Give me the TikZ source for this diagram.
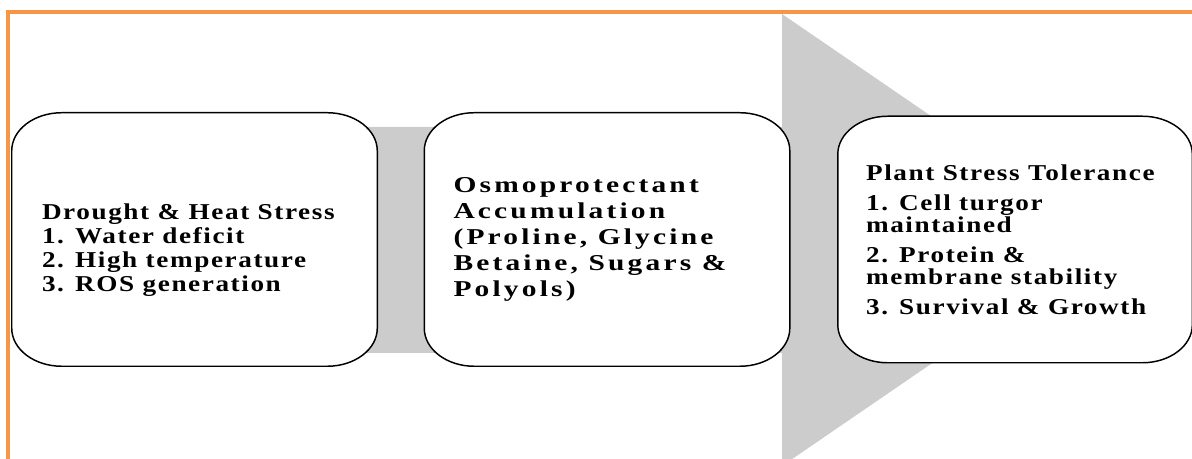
\documentclass[tikz,border=0pt]{standalone}
\usepackage{fontspec}
\setmainfont{Liberation Serif}
\newfontfamily\stagefont[FakeStretch=1.2,LetterSpace=7]{Liberation Serif}
\newfontfamily\osmofont[FakeStretch=1.3,LetterSpace=14]{Liberation Serif}
\usetikzlibrary{positioning,backgrounds}

\definecolor{pageorange}{RGB}{247,150,70}
\definecolor{flowgray}{RGB}{204,204,204}

\tikzset{
  stagebox/.style={minimum width=273.75pt, minimum height=189.75pt, inner sep=0pt},
  stagetext/.style={anchor=west, align=left, inner sep=0pt},
  frameline/.style={draw=black, fill=white, line width=1.1pt},
}

% frame with oval corners round a named node
\newcommand\ovalframe[1]{%
  \draw[frameline] ([xshift=37.5pt]#1.north west) -- ([xshift=-37.5pt]#1.north east)
    arc[start angle=90, end angle=0, x radius=37.5pt, y radius=28.5pt]
    -- ([yshift=28.5pt]#1.south east)
    arc[start angle=0, end angle=-90, x radius=37.5pt, y radius=28.5pt]
    -- ([xshift=37.5pt]#1.south west)
    arc[start angle=270, end angle=180, x radius=37.5pt, y radius=28.5pt]
    -- ([yshift=-28.5pt]#1.north west)
    arc[start angle=180, end angle=90, x radius=37.5pt, y radius=28.5pt]
    -- cycle;}

\begin{document}
\begin{tikzpicture}[x=0.75pt, y=0.75pt]
    \useasboundingbox (0,0) rectangle (1192,459);
    \clip (0,0) rectangle (1192,459);

    % Stages
    \node[stagebox] (drought) at (194.5,219.5) {};
    \node[stagebox, right=35.25pt of drought] (osmo) {};
    \node[stagebox, minimum width=265.5pt, minimum height=184.5pt,
      right=36pt of osmo] (tolerance) {};

    % Testi
    \node[stagetext, font=\stagefont\bfseries\fontsize{17}{18}\selectfont]
      (drought-text) at ([xshift=22.5pt, yshift=-8pt]drought.west)
      {Drought \& Heat Stress\\
       1. Water deficit\\
       2. High temperature\\
       3. ROS generation};
    \node[stagetext, font=\osmofont\bfseries\fontsize{17}{19.5}\selectfont]
      (osmo-text) at ([xshift=21.75pt]osmo.west)
      {Osmoprotectant\\
       Accumulation\\
       (Proline, Glycine\\
       Betaine, Sugars \&\\
       Polyols)};
    \node[stagetext, font=\stagefont\bfseries\fontsize{17}{16.5}\selectfont]
      (tolerance-text) at ([xshift=21pt]tolerance.west)
      {Plant Stress Tolerance\\[6pt]
       1. Cell turgor\\
       maintained\\[6pt]
       2. Protein \&\\
       membrane stability\\[6pt]
       3. Survival \& Growth};

    \begin{pgfonlayer}{background}
      % Freccia grigia
      \fill[flowgray] (300,332) -- (782,332) -- (782,445) -- (1112,219)
        -- (782,-7) -- (782,106) -- (300,106) -- cycle;
      \ovalframe{drought}
      \ovalframe{osmo}
      \ovalframe{tolerance}
    \end{pgfonlayer}

    % Bordo pagina
    \draw[pageorange, line width=3pt] (8,0) -- (8,447) -- (1192,447);
\end{tikzpicture}
\end{document}
